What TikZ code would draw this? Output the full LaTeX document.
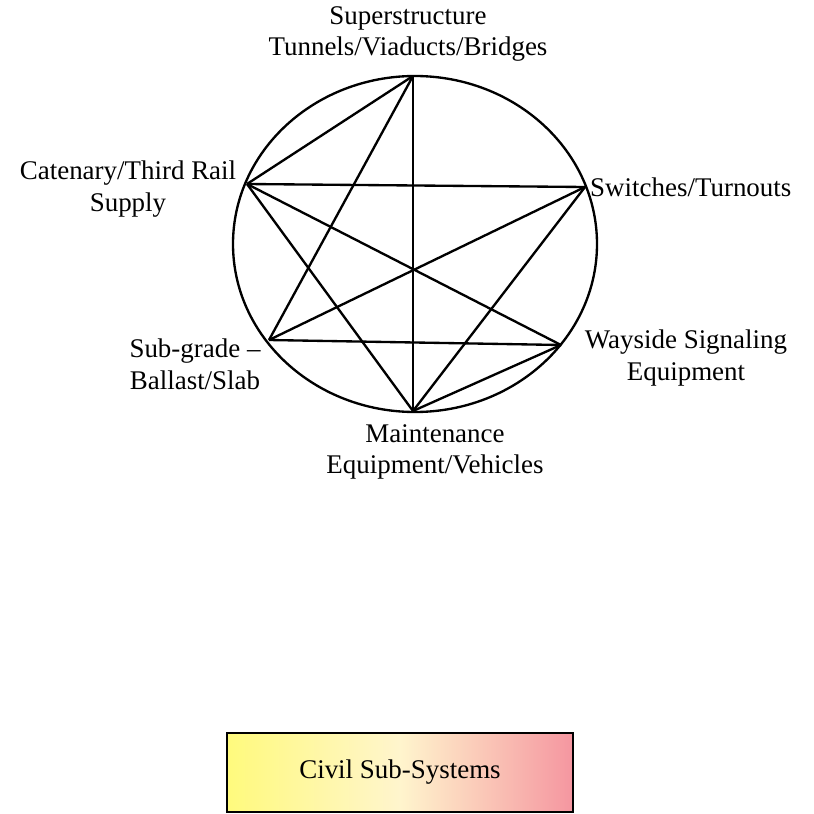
\documentclass[tikz,border=0pt]{standalone}
\usepackage{fontspec}
\setmainfont{Liberation Serif}
\definecolor{boxyellow}{RGB}{255,250,125}
\definecolor{boxcream}{RGB}{255,245,205}
\definecolor{boxpink}{RGB}{245,150,160}
\tikzset{
  link/.style={line width=2pt},
  sublabel/.style={font=\fontsize{23}{27}\selectfont, align=center, inner sep=0pt}
}
\begin{document}
\begin{tikzpicture}[x=0.03cm,y=-0.03cm]
    \useasboundingbox (0,0) rectangle (814,814);
    \draw[link] (415,244) ellipse[x radius=182,y radius=168];
    % the six sub-systems on the ring
    \coordinate (top) at (413,76);
    \coordinate (cat) at (247,184);
    \coordinate (sw) at (585,187);
    \coordinate (sub) at (269,340);
    \coordinate (way) at (561,345);
    \coordinate (mnt) at (413,411);
    \foreach \a/\b in {top/cat,top/sub,top/mnt,cat/sw,cat/way,cat/mnt,sw/sub,sw/mnt,sub/way,way/mnt}{
        \draw[link] (\a) -- (\b);
    }
    \node[sublabel] (topl) at (408,34) {Superstructure\\Tunnels/Viaducts/Bridges};
    \node[sublabel] (catl) at (128,189) {Catenary/Third Rail\\Supply};
    \node[sublabel, anchor=west] (swl) at (590,187) {Switches/Turnouts};
    \node[sublabel] (wayl) at (686,358) {Wayside Signaling\\Equipment};
    \node[sublabel] (subl) at (195,364) {Sub-grade --\\Ballast/Slab};
    \node[sublabel] (mntl) at (435,452) {Maintenance\\Equipment/Vehicles};
    \node[draw, line width=1pt, minimum width=346*0.03cm, minimum height=79*0.03cm,
        left color=boxyellow, right color=boxpink, middle color=boxcream,
        font=\fontsize{23}{27}\selectfont] (civil) at (400,772.5) {Civil Sub-Systems};
\end{tikzpicture}
\end{document}
